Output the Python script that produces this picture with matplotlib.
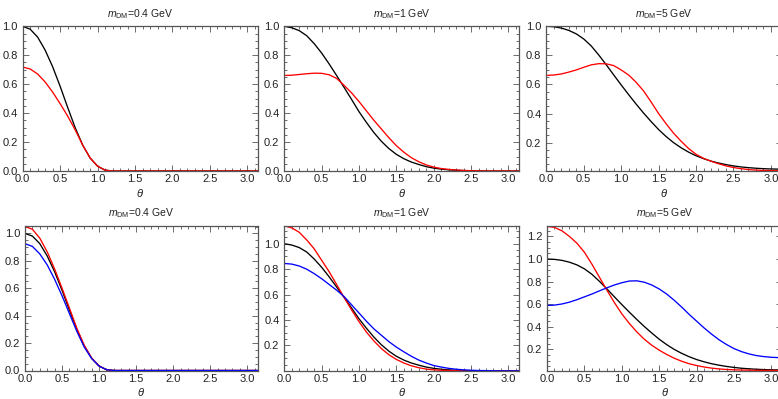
import numpy as np
import matplotlib
matplotlib.use("Agg")
import matplotlib.pyplot as plt
from matplotlib.ticker import MultipleLocator, AutoMinorLocator, FormatStrFormatter

# scattering angle grid (rad)
THETA = [0.0, 0.1, 0.2, 0.3, 0.4, 0.5, 0.6, 0.7, 0.8, 0.9,
         1.0, 1.1, 1.2, 1.3, 1.4, 1.5, 1.6, 1.7, 1.8, 1.9,
         2.0, 2.1, 2.2, 2.3, 2.4, 2.5, 2.6, 2.7, 2.8, 2.9,
         3.0, 3.1, 3.1416]

# m_DM = 0.4 GeV
BLACK_04 = [1.0, 0.98, 0.925, 0.835, 0.72, 0.585, 0.44, 0.3, 0.18, 0.09,
            0.033, 0.006, 0.0, 0.0, 0.0, 0.0, 0.0, 0.0, 0.0, 0.0,
            0.0, 0.0, 0.0, 0.0, 0.0, 0.0, 0.0, 0.0, 0.0, 0.0, 0.0, 0.0, 0.0]
RED_04_TOP = [0.718, 0.705, 0.67, 0.615, 0.545, 0.465, 0.38, 0.285, 0.18, 0.09,
              0.033, 0.006, 0.0, 0.0, 0.0, 0.0, 0.0, 0.0, 0.0, 0.0,
              0.0, 0.0, 0.0, 0.0, 0.0, 0.0, 0.0, 0.0, 0.0, 0.0, 0.0, 0.0, 0.0]
RED_04_BOT = [1.05, 1.03, 0.965, 0.865, 0.74, 0.6, 0.455, 0.308, 0.183, 0.09,
              0.033, 0.006, 0.0, 0.0, 0.0, 0.0, 0.0, 0.0, 0.0, 0.0,
              0.0, 0.0, 0.0, 0.0, 0.0, 0.0, 0.0, 0.0, 0.0, 0.0, 0.0, 0.0, 0.0]
BLUE_04 = [0.925, 0.905, 0.85, 0.77, 0.665, 0.545, 0.415, 0.285, 0.17, 0.087,
           0.032, 0.006, 0.0, 0.0, 0.0, 0.0, 0.0, 0.0, 0.0, 0.0,
           0.0, 0.0, 0.0, 0.0, 0.0, 0.0, 0.0, 0.0, 0.0, 0.0, 0.0, 0.0, 0.0]

# m_DM = 1 GeV
BLACK_1 = [1.0, 0.99, 0.97, 0.935, 0.88, 0.815, 0.74, 0.66, 0.578, 0.495,
           0.41, 0.335, 0.265, 0.205, 0.155, 0.115, 0.085, 0.062, 0.045, 0.03,
           0.02, 0.013, 0.008, 0.005, 0.003, 0.002, 0.001, 0.0, 0.0, 0.0, 0.0, 0.0, 0.0]
RED_1_TOP = [0.66, 0.662, 0.667, 0.672, 0.676, 0.675, 0.665, 0.64, 0.592, 0.54,
             0.48, 0.415, 0.35, 0.29, 0.23, 0.175, 0.13, 0.092, 0.064, 0.042,
             0.027, 0.017, 0.011, 0.007, 0.004, 0.002, 0.001, 0.0, 0.0, 0.0, 0.0, 0.0, 0.0]
RED_1_BOT = [1.14, 1.125, 1.09, 1.03, 0.96, 0.87, 0.78, 0.68, 0.578, 0.48,
             0.387, 0.305, 0.235, 0.175, 0.127, 0.09, 0.062, 0.04, 0.025, 0.014,
             0.008, 0.005, 0.003, 0.001, 0.0, 0.0, 0.0, 0.0, 0.0, 0.0, 0.0, 0.0, 0.0]
BLUE_1 = [0.845, 0.84, 0.825, 0.8, 0.765, 0.725, 0.68, 0.635, 0.585, 0.52,
          0.455, 0.39, 0.33, 0.28, 0.23, 0.187, 0.15, 0.115, 0.085, 0.062,
          0.042, 0.03, 0.02, 0.013, 0.008, 0.005, 0.003, 0.002, 0.001, 0.0, 0.0, 0.0, 0.0]

# m_DM = 5 GeV
BLACK_5 = [1.0, 0.997, 0.988, 0.972, 0.948, 0.913, 0.865, 0.803, 0.736, 0.666,
           0.597, 0.53, 0.465, 0.403, 0.345, 0.29, 0.242, 0.2, 0.165, 0.135,
           0.11, 0.09, 0.073, 0.06, 0.049, 0.04, 0.033, 0.028, 0.024, 0.021,
           0.019, 0.018, 0.018]
RED_5_TOP = [0.662, 0.665, 0.672, 0.685, 0.7, 0.718, 0.735, 0.743, 0.742, 0.73,
             0.7, 0.665, 0.615, 0.555, 0.48, 0.4, 0.33, 0.265, 0.21, 0.16,
             0.12, 0.092, 0.072, 0.055, 0.04, 0.029, 0.021, 0.015, 0.011, 0.009,
             0.008, 0.007, 0.007]
RED_5_BOT = [1.289, 1.28, 1.25, 1.2, 1.14, 1.06, 0.955, 0.84, 0.725, 0.615,
             0.515, 0.43, 0.355, 0.29, 0.237, 0.193, 0.155, 0.122, 0.095, 0.073,
             0.057, 0.044, 0.034, 0.027, 0.022, 0.019, 0.017, 0.016, 0.015, 0.014,
             0.014, 0.013, 0.013]
BLUE_5 = [0.589, 0.592, 0.602, 0.618, 0.64, 0.665, 0.69, 0.718, 0.745, 0.77,
          0.79, 0.805, 0.807, 0.795, 0.77, 0.735, 0.69, 0.635, 0.575, 0.51,
          0.45, 0.39, 0.335, 0.285, 0.243, 0.207, 0.18, 0.16, 0.145, 0.136,
          0.13, 0.127, 0.126]

MASS_TITLES = [r"$m_{\mathrm{DM}}$=0.4 GeV", r"$m_{\mathrm{DM}}$=1 GeV", r"$m_{\mathrm{DM}}$=5 GeV"]

PANELS = [
    # (curves, y limits)
    ([BLACK_04, RED_04_TOP], (0.0, 1.0)),
    ([BLACK_1, RED_1_TOP], (0.0, 1.0)),
    ([BLACK_5, RED_5_TOP], (0.005, 1.0)),
    ([BLACK_04, RED_04_BOT, BLUE_04], (0.0, 1.056)),
    ([BLACK_1, RED_1_BOT, BLUE_1], (0.003, 1.142)),
    ([BLACK_5, RED_5_BOT, BLUE_5], (0.013, 1.295)),
]
COLORS = ["#000000", "#ff0000", "#0000ff"]
FRAME = "#555555"

plt.rcParams.update({
    "font.family": "Liberation Sans",
    "mathtext.fontset": "custom",
    "mathtext.rm": "Liberation Sans",
    "mathtext.it": "Liberation Sans:italic",
    "font.size": 8,
})

W, H = 778, 399
fig = plt.figure(figsize=(W / 100, H / 100), dpi=100)

# frame boxes in pixels: left, top, right, bottom
boxes = [
    (22.7, 26.3, 258.0, 171.0),
    (284.3, 26.3, 519.0, 171.0),
    (546.3, 26.3, 781.5, 171.0),
    (25.0, 225.7, 257.7, 370.5),
    (284.3, 225.7, 519.0, 370.5),
    (547.0, 225.7, 782.0, 370.5),
]

for i, ((curves, ylim), (l, t, r, b)) in enumerate(zip(PANELS, boxes)):
    ax = fig.add_axes([l / W, 1 - b / H, (r - l) / W, (b - t) / H])
    for c, y in zip(COLORS, curves):
        ax.plot(THETA, y, color=c, lw=0.95, solid_joinstyle="round")
    ax.set_xlim(0, np.pi)
    ax.set_ylim(*ylim)
    ax.xaxis.set_major_locator(MultipleLocator(0.5))
    ax.xaxis.set_minor_locator(MultipleLocator(0.1))
    ax.yaxis.set_major_locator(MultipleLocator(0.2))
    ax.yaxis.set_minor_locator(AutoMinorLocator(4))
    ax.xaxis.set_major_formatter(FormatStrFormatter("%.1f"))
    ax.yaxis.set_major_formatter(FormatStrFormatter("%.1f"))
    ax.tick_params(which="both", direction="in", top=True, right=True,
                   color=FRAME, labelcolor="#222222", labelsize=8, width=0.6)
    ax.tick_params(which="major", length=4)
    ax.tick_params(which="minor", length=2)
    ax.tick_params(axis="x", which="major", pad=2.5)
    ax.tick_params(axis="y", which="major", pad=3.5)
    for s in ax.spines.values():
        s.set_color(FRAME)
        s.set_linewidth(0.9)
    ax.set_title(MASS_TITLES[i % 3], fontsize=7.5, pad=6.5, color="#222222")
    ax.set_xlabel(r"$\theta$", fontsize=8, labelpad=1.5, color="#222222")

fig.savefig("out.png", dpi=100)
